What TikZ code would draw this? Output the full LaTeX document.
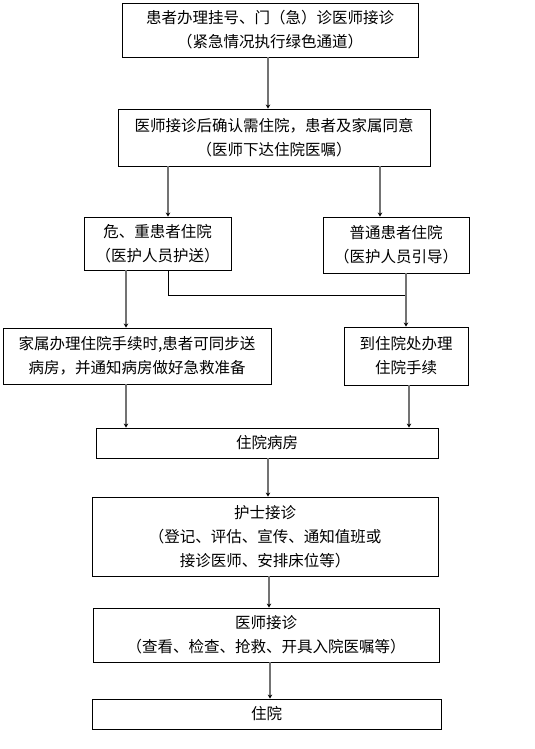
\documentclass[tikz,border=0pt]{standalone}
\usepackage{fontspec}
\setmainfont{Noto Sans CJK SC}
\usetikzlibrary{arrows.meta,calc}
\begin{document}
\begin{tikzpicture}[x=1pt,y=-1pt,
  box/.style={draw=black,line width=0.9pt,inner sep=0pt,align=center,
    font=\fontsize{15.5}{24}\selectfont},
  arr/.style={draw=black!55,line width=1.4pt,-{Stealth[length=4pt,width=4.5pt,black]}},
  ln/.style={draw=black,line width=0.9pt}]
\useasboundingbox (0,0) rectangle (535,749);
% boxes: centre at ((x1+x2)/2,(y1+y2)/2), size (x2-x1)x(y2-y1)
\node[box,minimum width=296,minimum height=54] (b1) at (270,30)
  {患者办理挂号、门（急）诊医师接诊\\（紧急情况执行绿色通道）};
\node[box,minimum width=312,minimum height=57] (b2) at (274,137.5)
  {医师接诊后确认需住院，患者及家属同意\\（医师下达住院医嘱）};
\node[box,minimum width=147,minimum height=53] (b3) at (157.5,243.5)
  {危、重患者住院\\（医护人员护送）};
\node[box,minimum width=146,minimum height=56] (b4) at (396,245)
  {普通患者住院\\（医护人员引导）};
\node[box,minimum width=268,minimum height=56] (b5) at (137,356)
  {家属办理住院手续时,患者可同步送\\病房，并通知病房做好急救准备};
\node[box,minimum width=124,minimum height=58] (b6) at (406,356)
  {到住院处办理\\住院手续};
\node[box,minimum width=342,minimum height=30] (b7) at (267,443)
  {住院病房};
\node[box,minimum width=346,minimum height=79] (b8) at (265,536.5)
  {护士接诊\\（登记、评估、宣传、通知值班或\\接诊医师、安排床位等）};
\node[box,minimum width=346,minimum height=54] (b9) at (266,635)
  {医师接诊\\（查看、检查、抢救、开具入院医嘱等）};
\node[box,minimum width=349,minimum height=30] (b10) at (266.5,714)
  {住院};
% guide coordinates for connector columns
\coordinate (xA) at (126,0);
\coordinate (xL) at (168,0);
\coordinate (xR) at (380,0);
\coordinate (xB) at (406,0);
\coordinate (xC) at (409,0);
\coordinate (xM) at (268,0);
\coordinate (xN) at (269,0);
\coordinate (xO) at (270,0);
\coordinate (j) at (406,295);
% connectors
\draw[arr] (b1.south -| xM) -- (b2.north -| xM);
\draw[arr] (b2.south -| xL) -- (b3.north -| xL);
\draw[arr] (b2.south -| xR) -- (b4.north -| xR);
\draw[arr] (b3.south -| xA) -- (b5.north -| xA);
\draw[ln] (b3.south -| xL) |- (j);
\draw[arr] (b4.south -| xB) -- (b6.north -| xB);
\draw[arr] (b5.south -| xA) -- (b7.north -| xA);
\draw[arr] (b6.south -| xC) -- (b7.north -| xC);
\draw[arr] (b7.south -| xM) -- (b8.north -| xM);
\draw[arr] (b8.south -| xN) -- (b9.north -| xN);
\draw[arr] (b9.south -| xO) -- (b10.north -| xO);
\end{tikzpicture}
\end{document}
